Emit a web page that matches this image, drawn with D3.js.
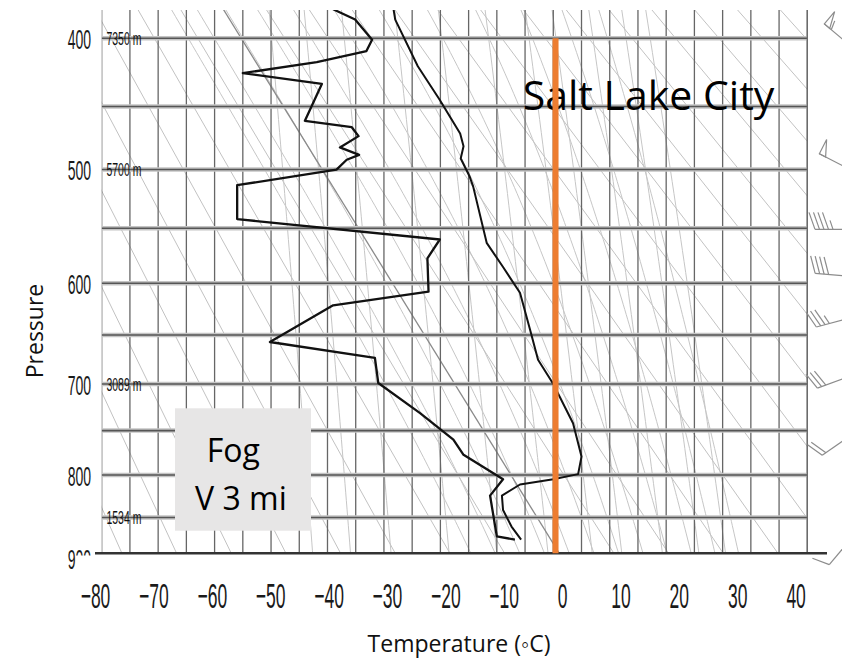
<!DOCTYPE html>
<html lang="en"><head>
<meta charset="utf-8">
<title>Salt Lake City sounding</title>
<script src="https://cdn.jsdelivr.net/npm/d3@7"></script>
<style>
body { margin: 0; background: #fff; }
</style>
</head>
<body>
<svg id="chart" width="842" height="659"></svg>
<script>

// sounding (pressure hPa, temperature C)
var tempP = [380, 387, 420, 445, 471, 481, 491, 506, 514, 563, 585, 609, 645, 675, 700, 742, 779, 799, 805, 811, 824, 841, 861, 877];
var tempC = [-28.3, -28.0, -24.0, -20.1, -16.5, -15.9, -16.4, -14.8, -14.2, -11.8, -8.9, -5.9, -4.1, -2.7, 0.0, 3.5, 5.0, 4.4, 0.0, -5.9, -9.1, -8.9, -7.4, -5.7];

var dewP = [380, 387, 401, 409, 417, 425, 433, 461, 466, 473, 482, 488, 492, 500, 513, 542, 560, 577, 608, 621, 657, 673, 699, 731, 760, 777, 805, 824, 873, 877];
var dewC = [-39.0, -35.1, -32.1, -33.1, -41.9, -55.0, -41.0, -44.0, -35.7, -34.5, -37.8, -34.4, -36.6, -38.4, -56.0, -56.0, -20.1, -22.3, -22.1, -39.0, -50.2, -31.6, -31.0, -23.6, -17.7, -15.9, -8.9, -11.2, -10.0, -6.8];

// wind barbs on the right edge
var windP = [408, 502, 551, 594, 632, 690, 752, 870];
var windDir = [310, 297, 270, 275, 255, 250, 235, 220];
var windKt = [55, 50, 45, 40, 35, 30, 20, 10];

// axes and background lines
var tempTicks = [-80, -70, -60, -50, -40, -30, -20, -10, 0, 10, 20, 30, 40];
var pressureTicks = [400, 500, 600, 700, 800, 900];
var isobars = [400, 450, 500, 550, 600, 650, 700, 750, 800, 850];
var isotherms = d3.range(-80, 50, 5);
var dryAdiabats = [-70, -60, -50, -40, -30, -20, -10, 0, 10, 20, 30, 40, 50, 60, 70, 80, 90, 100, 110, 120, 130, 140];
var moistAdiabats = [-8, -4, 0, 4, 8, 12, 16, 20, 24, 28, 32, 36];
var mixingRatios = [0.1, 0.2, 0.4, 1, 2, 4, 7, 10, 16, 24, 32];
var heightP = [400, 500, 700, 850];
var heightText = ["7350 m", "5700 m", "3089 m", "1534 m"];
var freezeLine = 0.4;

var svg = d3.select("#chart");
var top_ = 10, bottom = 553.3;

var x = d3.scaleLinear().domain([-80, 45]).range([101.7, 807.3]);
var xLab = d3.scaleLinear().domain([-80, 40]).range([95, 795.6]);
var y = d3.scalePow().exponent(0.286).domain([400, 800]).range([38.3, 475]);

svg.append("rect").attr("width", 842).attr("height", 659).attr("fill", "#fff");

svg.append("clipPath").attr("id", "plotclip").append("rect")
  .attr("x", x(-80)).attr("y", top_)
  .attr("width", x(45) - x(-80)).attr("height", bottom - top_);

var plot = svg.append("g").attr("clip-path", "url(#plotclip)");

var line = d3.line().x(function (d) { return x(d.t); }).y(function (d) { return y(d.p); });

// thermodynamic background lines
function satVap(tc) { return 6.112 * Math.exp(17.67 * tc / (tc + 243.5)); }

function dryPath(th) {
  var thK = th + 273.15;
  return [370, 900].map(function (p) { return {p: p, t: thK * Math.pow(p / 1000, 0.286) - 273.15}; });
}

function moistPath(tw) {
  var T = tw + 273.15, p = 1000, pts = [{p: p, t: tw}];
  while (p > 370) {
    var es = satVap(T - 273.15), rs = 0.622 * es / (p - es);
    var dTdp = (287.04 * T + 2.501e6 * rs) / (p * (1005.7 + 2.501e6 * 2.501e6 * rs * 0.622 / (287.04 * T * T)));
    T += dTdp * -5;
    p -= 5;
    pts.push({p: p, t: T - 273.15});
  }
  return pts;
}

function mixPath(w) {
  var pts = [];
  for (var p = 370; p <= 900; p += 10) {
    var e = (w / 1000) * p / (0.622 + w / 1000);
    var a = Math.log(e / 6.112);
    pts.push({p: p, t: 243.5 * a / (17.67 - a)});
  }
  return pts;
}

plot.selectAll(".mix").data(mixingRatios).enter().append("path")
  .attr("d", function (d) { return line(mixPath(d)); })
  .attr("fill", "none").attr("stroke", "#c6c6c6").attr("stroke-width", 1);

plot.selectAll(".moist").data(moistAdiabats).enter().append("path")
  .attr("d", function (d) { return line(moistPath(d)); })
  .attr("fill", "none").attr("stroke", "#c6c6c6").attr("stroke-width", 1);

plot.selectAll(".dry").data(dryAdiabats).enter().append("path")
  .attr("d", function (d) { return line(dryPath(d)); })
  .attr("fill", "none")
  .attr("stroke", function (d) { return d == 10 ? "#8a8a8a" : "#c2c2c2"; })
  .attr("stroke-width", function (d) { return d == 10 ? 1.3 : 1; });

// isotherms
plot.selectAll(".iso").data(isotherms).enter().append("line")
  .attr("x1", function (d) { return x(d); }).attr("x2", function (d) { return x(d); })
  .attr("y1", top_).attr("y2", bottom)
  .attr("stroke", "#666").attr("stroke-width", 1.3);

svg.append("line").attr("x1", x(45)).attr("x2", x(45)).attr("y1", top_).attr("y2", bottom)
  .attr("stroke", "#666").attr("stroke-width", 1.3);

// isobars
plot.selectAll(".isobarHalo").data(isobars).enter().append("line")
  .attr("x1", x(-80)).attr("x2", x(45))
  .attr("y1", function (d) { return y(d); }).attr("y2", function (d) { return y(d); })
  .attr("stroke", "#c4c4c4").attr("stroke-width", 4.5);
plot.selectAll(".isobar").data(isobars).enter().append("line")
  .attr("x1", x(-80)).attr("x2", x(45))
  .attr("y1", function (d) { return y(d); }).attr("y2", function (d) { return y(d); })
  .attr("stroke", "#555").attr("stroke-width", 1.6);

// sounding
var tempPts = tempP.map(function (p, i) { return {p: p, t: tempC[i]}; });
var dewPts = dewP.map(function (p, i) { return {p: p, t: dewC[i]}; });

plot.append("path").attr("d", line(tempPts))
  .attr("fill", "none").attr("stroke", "#111").attr("stroke-width", 2).attr("stroke-linejoin", "round");
plot.append("path").attr("d", line(dewPts))
  .attr("fill", "none").attr("stroke", "#111").attr("stroke-width", 2.3).attr("stroke-linejoin", "round");

// height labels
heightP.forEach(function (p, i) {
  svg.append("g").attr("transform", "translate(106.5," + (y(p) + 6.8) + ") scale(0.55,1)")
    .append("text").text(heightText[i])
    .attr("font-family", "Liberation Sans").attr("font-size", 19).attr("fill", "#111");
});

// bottom axis
svg.append("line").attr("x1", 95).attr("x2", 827).attr("y1", bottom).attr("y2", bottom)
  .attr("stroke", "#333").attr("stroke-width", 2.5);

var xAxis = svg.append("g").attr("transform", "translate(0," + bottom + ")")
  .call(d3.axisBottom(xLab).tickValues(tempTicks).tickSize(0).tickPadding(0));
xAxis.select(".domain").remove();
xAxis.selectAll("text")
  .attr("y", 55).attr("dy", 0)
  .attr("transform", "scale(0.5,1)")
  .attr("font-family", "Liberation Sans").attr("font-size", 35).attr("fill", "#1a1a1a");

var yAxis = svg.append("g").attr("transform", "translate(91,0)")
  .call(d3.axisLeft(y).tickValues(pressureTicks).tickSize(0).tickPadding(0));
yAxis.select(".domain").remove();
yAxis.selectAll("text")
  .attr("x", 0).attr("dy", "0.36em")
  .attr("transform", "scale(0.5,1)")
  .attr("font-family", "Liberation Sans").attr("font-size", 28).attr("fill", "#1a1a1a");

// the bottom label is half hidden under the pasted x labels
svg.append("rect").attr("x", 75.5).attr("y", 555.5).attr("width", 18).attr("height", 20).attr("fill", "#fff");

// axis titles
svg.append("text").text("Temperature (\u25E6C)")
  .attr("x", 459).attr("y", 651.7).attr("text-anchor", "middle")
  .attr("font-family", "Open Sans").attr("font-size", 23).attr("fill", "#111");
svg.append("text").text("Pressure")
  .attr("transform", "translate(43.3,331) rotate(-90)").attr("text-anchor", "middle")
  .attr("font-family", "Open Sans").attr("font-size", 23).attr("fill", "#111");

// wind barbs
function drawBarb(g, bx, by, dir, spd) {
  var r = dir * Math.PI / 180, ux = Math.sin(r), uy = -Math.cos(r);
  var px = -uy, py = ux;
  var L = 40, tx = bx + ux * L, ty = by + uy * L;
  g.append("line").attr("x1", bx).attr("y1", by).attr("x2", tx).attr("y2", ty);
  var pos = 0, s = spd;
  while (s >= 50) {
    var qx = tx - ux * pos, qy = ty - uy * pos;
    g.append("path").attr("d", "M" + qx + "," + qy + "L" + (qx + px * 16) + "," + (qy + py * 16) +
      "L" + (qx - ux * 7) + "," + (qy - uy * 7) + "Z").attr("fill", "none");
    pos += 9; s -= 50;
  }
  while (s >= 10) {
    var fx = tx - ux * pos, fy = ty - uy * pos;
    g.append("line").attr("x1", fx).attr("y1", fy)
      .attr("x2", fx + px * 17 + ux * 6).attr("y2", fy + py * 17 + uy * 6);
    pos += 4.5; s -= 10;
  }
  if (s >= 5) {
    var hx = tx - ux * pos, hy = ty - uy * pos;
    g.append("line").attr("x1", hx).attr("y1", hy)
      .attr("x2", hx + px * 9 + ux * 3).attr("y2", hy + py * 9 + uy * 3);
  }
}

var barbs = svg.append("g").attr("stroke", "#8c8c8c").attr("stroke-width", 1.2).attr("fill", "none");
windP.forEach(function (p, i) { drawBarb(barbs, 855, y(p), windDir[i], windKt[i]); });

// annotations
svg.append("text").text("Salt Lake City")
  .attr("x", 522.7).attr("y", 110)
  .attr("font-family", "Open Sans").attr("font-size", 41).attr("fill", "#000");

svg.append("line")
  .attr("x1", x(freezeLine)).attr("x2", x(freezeLine))
  .attr("y1", y(400)).attr("y2", bottom)
  .attr("stroke", "#ED7D31").attr("stroke-width", 6);

svg.append("rect").attr("x", 175).attr("y", 408.3).attr("width", 136).attr("height", 122.4)
  .attr("fill", "#e7e6e6");
svg.append("text").text("Fog").attr("x", 206.7).attr("y", 461.7)
  .attr("font-family", "Open Sans").attr("font-size", 32).attr("fill", "#000");
svg.append("text").text("V 3 mi").attr("x", 195).attr("y", 510)
  .attr("font-family", "Open Sans").attr("font-size", 32).attr("fill", "#000");

</script>
</body></html>
